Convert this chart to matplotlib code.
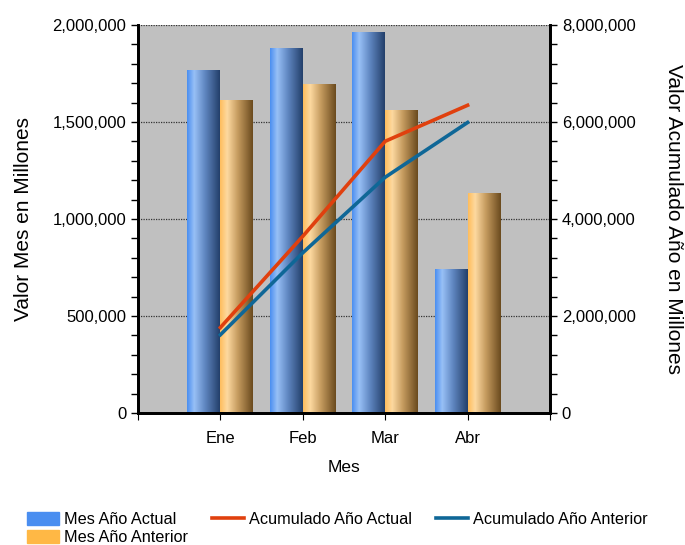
import numpy as np
import matplotlib.pyplot as plt
from matplotlib.colors import LinearSegmentedColormap
from matplotlib.patches import Patch
from matplotlib.lines import Line2D
from matplotlib.ticker import FuncFormatter, MultipleLocator

plt.rcParams['font.family'] = ['Liberation Sans', 'DejaVu Sans']

# Datos
meses = ['Ene', 'Feb', 'Mar', 'Abr']
mes_actual = [1763000, 1881000, 1959000, 742000]
mes_anterior = [1613000, 1691000, 1557000, 1129000]
acum_actual = np.cumsum(mes_actual)
acum_anterior = np.cumsum(mes_anterior)

# Degradados de las barras
cmap_azul = LinearSegmentedColormap.from_list(
    'azul', [(0, '#4a8ef0'), (0.22, '#98c0f6'), (0.55, '#5f86c0'), (1, '#233f6a')])
cmap_nar = LinearSegmentedColormap.from_list(
    'nar', [(0, '#ffbd5c'), (0.22, '#fdd9a0'), (0.55, '#c49a5e'), (1, '#6a4a1e')])

fig = plt.figure(figsize=(6.85, 5.45), dpi=100)
ax = fig.add_axes([138/685, 1 - 413/545, 412/685, 388/545])
ax.set_facecolor('#c0c0c0')

x = np.arange(1, len(meses) + 1)
ancho = 0.4
grad = np.linspace(0, 1, 256).reshape(1, -1)
for xi, h in zip(x, mes_actual):
    ax.imshow(grad, extent=[xi - ancho, xi, 0, h], aspect='auto', cmap=cmap_azul, zorder=2)
for xi, h in zip(x, mes_anterior):
    ax.imshow(grad, extent=[xi, xi + ancho, 0, h], aspect='auto', cmap=cmap_nar, zorder=2)

ax.set_xlim(0, 5)
ax.set_ylim(0, 2000000)
ax.set_xticks([0, 1, 2, 3, 4, 5])
ax.set_xticklabels([''] + meses + [''], fontsize=12)
ax.yaxis.set_major_locator(MultipleLocator(500000))
ax.yaxis.set_minor_locator(MultipleLocator(100000))
ax.yaxis.set_major_formatter(FuncFormatter(lambda v, p: f'{int(v):,}'))
ax.tick_params(axis='y', which='both', labelsize=12, length=5, width=1)
ax.tick_params(axis='x', labelsize=12, length=5, pad=8)
ax.grid(axis='y', which='major', linestyle=(0, (1, 1)), color='#333333', linewidth=0.9)
ax.set_axisbelow(True)
ax.set_xlabel('Mes', fontsize=12.5, labelpad=10)
ax.set_ylabel('Valor Mes en Millones', fontsize=15, labelpad=14)

ax2 = ax.twinx()
ax2.plot(x, acum_actual, color='#e0400e', linewidth=2.6, zorder=3)
ax2.plot(x, acum_anterior, color='#0f6797', linewidth=2.6, zorder=3)
ax2.set_ylim(0, 8000000)
ax2.yaxis.set_major_locator(MultipleLocator(2000000))
ax2.yaxis.set_minor_locator(MultipleLocator(400000))
ax2.yaxis.set_major_formatter(FuncFormatter(lambda v, p: f'{int(v):,}'))
ax2.tick_params(axis='y', which='both', labelsize=12, length=5, width=1)
ax2.set_ylabel('Valor Acumulado Año en Millones', fontsize=15, rotation=270, labelpad=34)

for a in (ax, ax2):
    a.spines['top'].set_visible(False)
    for s in ('left', 'right', 'bottom'):
        a.spines[s].set_linewidth(2)

handles = [Patch(color='#4a8ef0'), Patch(color='#ffb845'),
           Line2D([], [], color='#e0400e', linewidth=2.6),
           Line2D([], [], color='#0f6797', linewidth=2.6)]
labels = ['Mes Año Actual', 'Mes Año Anterior', 'Acumulado Año Actual', 'Acumulado Año Anterior']
fig.legend(handles, labels, ncol=3, loc='upper left', bbox_to_anchor=(27/685, 1 - 512/545),
           frameon=False, fontsize=11.7, handlelength=1.95, handleheight=0.8,
           columnspacing=1.45, labelspacing=0.2, handletextpad=0.35,
           borderpad=0, borderaxespad=0)

fig.savefig('out.png', dpi=100)
